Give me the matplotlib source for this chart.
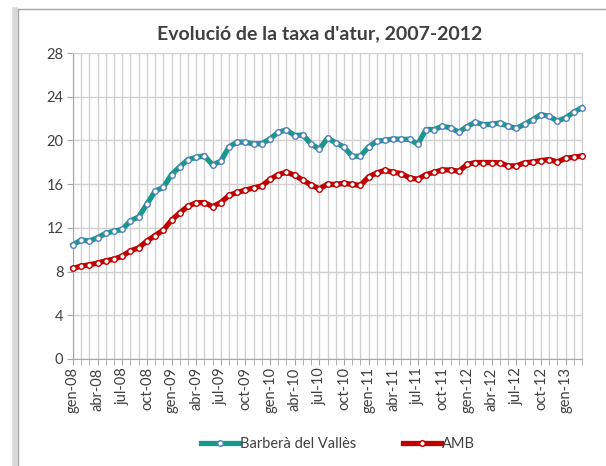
import numpy as np
import matplotlib.pyplot as plt
from matplotlib.lines import Line2D

# monthly unemployment rate, gen-08 .. mar-13
barbera = [10.45, 10.88, 10.8, 11.1, 11.5, 11.7, 11.85, 12.65, 13.0, 14.17,
           15.36, 15.7, 16.88, 17.58, 18.25, 18.44, 18.6, 17.76, 18.1, 19.4,
           19.85, 19.84, 19.68, 19.71, 20.14, 20.75, 20.96, 20.45, 20.5, 19.68,
           19.2, 20.2, 19.8, 19.4, 18.55, 18.55, 19.4, 19.93, 20.0, 20.14,
           20.1, 20.1, 19.65, 21.0, 21.0, 21.3, 21.15, 20.75, 21.27, 21.66,
           21.45, 21.48, 21.6, 21.3, 21.1, 21.48, 21.9, 22.37, 22.2, 21.78,
           22.06, 22.58, 23.0]
amb = [8.29, 8.5, 8.62, 8.78, 8.99, 9.14, 9.41, 9.9, 10.17, 10.79,
       11.3, 11.79, 12.7, 13.37, 13.98, 14.29, 14.32, 13.94, 14.32, 14.97,
       15.24, 15.45, 15.66, 15.84, 16.43, 16.88, 17.09, 16.82, 16.36, 15.93,
       15.57, 16.0, 15.97, 16.09, 15.97, 15.88, 16.66, 17.03, 17.26, 17.09,
       16.97, 16.57, 16.45, 16.88, 17.09, 17.3, 17.3, 17.18, 17.8, 17.98,
       17.98, 17.98, 17.95, 17.67, 17.67, 17.95, 18.03, 18.16, 18.25, 18.03,
       18.37, 18.46, 18.58]
tick_labels = ['gen-08', 'abr-08', 'jul-08', 'oct-08', 'gen-09', 'abr-09', 'jul-09',
               'oct-09', 'gen-10', 'abr-10', 'jul-10', 'oct-10', 'gen-11', 'abr-11',
               'jul-11', 'oct-11', 'gen-12', 'abr-12', 'jul-12', 'oct-12', 'gen-13']
series_names = ['Barberà del Vallès', 'AMB']

plt.rcParams['font.family'] = ['Lato', 'DejaVu Sans']

W, H = 606, 466
fig = plt.figure(figsize=(W / 100, H / 100), dpi=100)
ax = fig.add_axes([73 / W, 107 / H, (582 - 73) / W, (359 - 53) / H])

x = np.arange(len(barbera))
teal, red = '#16998a', '#c00000'
ax.plot(x, barbera, color=teal, lw=3.8, marker='o', ms=4, mfc='white',
        mec='#4f81bd', mew=1.0, label=series_names[0], zorder=3, clip_on=False)
ax.plot(x, amb, color=red, lw=3.8, marker='o', ms=4, mfc='white',
        mec=red, mew=1.0, label=series_names[1], zorder=3, clip_on=False)

ax.set_xlim(0, len(x) - 1)
ax.set_ylim(0, 28)
ax.set_yticks(range(0, 29, 4))
ax.set_xticks(np.arange(0, len(x), 3))
ax.set_xticklabels(tick_labels, rotation=90)
ax.set_xticks(x, minor=True)

grid_c = '#d0d0d0'
ax.grid(axis='y', color=grid_c, lw=1)
ax.grid(axis='x', which='both', color=grid_c, lw=1)
ax.set_axisbelow(True)
for s in ['top', 'right']:
    ax.spines[s].set_color(grid_c)
for s in ['left', 'bottom']:
    ax.spines[s].set_color('#a6a6a6')
ax.tick_params(axis='x', which='both', length=4, color='#a6a6a6', labelsize=10.5,
               labelcolor='#404040', pad=2)
ax.tick_params(axis='y', length=4, color='#a6a6a6', labelsize=10.5,
               labelcolor='#404040', pad=3)

fig.text(320 / W, 1 - 34 / H, "Evolució de la taxa d'atur, 2007-2012",
         ha='center', va='center', fontsize=14, fontweight='bold', color='#404040')

fig.legend(loc='center', bbox_to_anchor=(338 / W, 22 / H), ncol=2, frameon=False,
           fontsize=10.5, handlelength=2.6, handletextpad=0.05, columnspacing=3.2,
           numpoints=1, labelcolor='#404040')

# chart area frame (cropped on right/bottom)
fig.add_artist(Line2D([15 / W, 15 / W], [0, 1 - 10 / H], color='#d9d9d9', lw=4,
                      transform=fig.transFigure))
fig.add_artist(Line2D([18 / W, 18 / W], [0, 1 - 9 / H], color='#a6a6a6', lw=1,
                      transform=fig.transFigure))
fig.add_artist(Line2D([18 / W, 1], [1 - 9 / H, 1 - 9 / H], color='#a6a6a6', lw=1,
                      transform=fig.transFigure))

fig.savefig('out.png', dpi=100)
